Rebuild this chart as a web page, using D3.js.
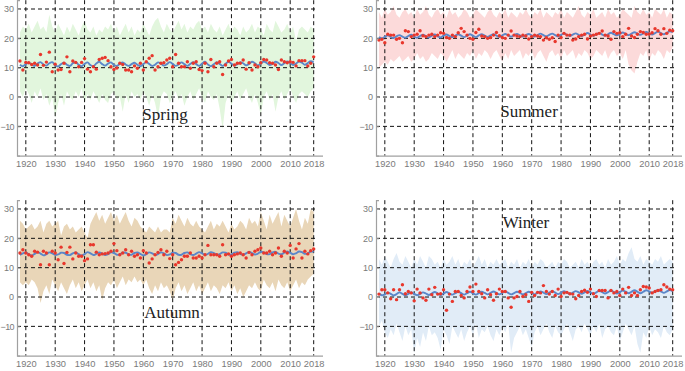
<!DOCTYPE html>
<html><head><meta charset="utf-8">
<script src="https://cdn.jsdelivr.net/npm/d3@7"></script>
<style>body{margin:0;background:#fff}svg{display:block}</style>
</head><body>
<svg id="c" width="685" height="371"></svg>
<script>
const years = d3.range(1918, 2019);
const xTicks = [1920,1930,1940,1950,1960,1970,1980,1990,2000,2010,2018];
const yTicks = [30,20,10,0,-10];
const seasons = ["Spring","Summer","Autumn","Winter"];

const springMean = [12.3,9.2,11.8,11.7,11.1,11.5,10.9,14.5,10.8,11.9,
15.3,8.6,11.2,9.2,9.4,11.5,13.7,8.6,12.3,11.8,
10.3,11.8,13.1,9.5,8.6,10.3,9.5,12.8,13.2,13.5,
12.4,10.3,9.4,9.9,11.5,11.1,9.2,9.2,8.6,10.6,
9.8,11.5,9.2,12.0,13.2,14.1,9.2,10.3,11.5,11.7,
12.6,13.2,10.3,14.5,11.5,10.3,10.3,12.0,9.8,11.5,
12.0,9.4,9.0,11.5,8.6,12.8,10.3,11.5,12.0,7.7,
10.9,12.3,12.8,10.9,11.5,11.5,12.6,9.5,11.7,9.2,
10.9,10.3,11.7,12.8,12.6,11.7,11.5,10.9,9.4,12.6,
12.0,11.7,12.0,11.8,10.6,12.4,12.4,12.4,10.6,11.5,13.7];
const springFit = [11.0,10.5,11.2,11.8,11.0,10.6,11.4,11.9,11.1,10.7,
11.5,11.9,10.8,10.4,11.2,11.7,11.0,10.6,11.5,11.9,
11.0,10.5,11.3,11.8,10.9,10.5,11.4,12.0,11.2,10.7,
11.4,11.8,10.9,10.6,11.3,11.8,11.1,10.6,11.2,11.7,
11.0,10.5,11.2,11.9,11.3,10.6,11.0,11.8,11.4,10.7,
11.2,11.9,11.3,10.6,11.1,11.8,11.2,10.6,11.3,11.9,
11.2,10.6,11.4,12.0,11.1,10.5,11.2,11.9,11.3,10.6,
11.3,12.0,11.4,10.7,11.2,11.9,11.5,10.8,11.3,12.0,
11.5,10.8,11.4,12.1,11.6,10.9,11.3,12.0,11.6,10.9,
11.5,12.1,11.6,10.9,11.4,12.1,11.7,11.0,11.6,12.2,11.8];
const springMax = [22,24,23,25,22,24,26,23,24,22,
28,24,22,25,23,21,24,22,25,23,
21,24,26,23,22,24,21,23,22,24,
23,25,22,24,21,23,25,22,24,21,
23,22,25,23,21,24,26,27,24,22,
25,23,22,24,26,23,25,22,24,23,
25,26,23,24,22,25,23,22,24,21,
23,25,22,24,23,21,24,22,23,25,
22,24,23,21,25,23,22,26,24,22,
23,25,22,24,19,23,24,23,22,24,23];
const springMin = [2,0,3,1,-2,2,0,3,-1,1,
-3,0,-7,-2,1,-3,2,0,-1,2,
0,3,-2,1,-1,2,0,-2,1,-1,
-2,1,2,-1,0,-5,1,-2,2,0,
1,-1,2,0,-3,1,-2,-7,0,2,
1,-2,0,2,-1,1,-3,0,2,-1,
1,3,0,-2,2,0,-1,1,-4,-11,
-2,1,-3,0,2,-1,1,3,0,-2,
1,-2,-6,0,2,-1,1,-5,0,2,
-1,1,3,0,-2,1,2,1,0,2,3];

const summerMean = [19.4,19.7,18.5,21.4,21.1,21.1,19.7,20.0,18.5,22.6,
22.3,20.6,21.1,21.4,22.6,20.9,20.6,21.1,21.4,20.6,
21.1,21.9,21.7,20.3,20.0,21.1,20.6,21.9,23.4,22.3,
21.1,20.0,19.7,22.0,23.1,20.8,20.6,20.0,20.3,21.1,
22.0,20.9,20.3,20.0,21.1,22.5,21.1,20.8,20.6,21.1,
20.8,19.8,20.6,21.1,20.8,20.6,19.4,20.2,19.7,20.2,
18.9,21.1,20.3,21.7,21.1,21.1,19.4,19.8,20.6,21.1,
21.4,19.8,20.8,21.1,21.4,21.7,22.5,21.1,20.8,19.7,
22.3,21.7,21.9,20.6,21.4,23.4,20.8,20.3,21.4,22.3,
22.0,21.4,21.5,21.9,23.3,22.6,21.4,23.3,21.7,22.8,22.6];
const summerFit = [20.4,20.0,20.5,21.0,20.5,20.1,20.7,21.1,20.6,20.2,
20.8,21.2,20.6,20.2,20.8,21.2,20.7,20.3,20.9,21.3,
20.7,20.3,20.9,21.3,20.8,20.4,20.9,21.4,20.9,20.4,
20.9,21.4,20.9,20.4,21.0,21.4,20.9,20.5,21.0,21.4,
20.9,20.5,21.0,21.5,21.0,20.6,21.1,21.5,21.0,20.6,
21.1,21.5,21.0,20.6,21.1,21.6,21.1,20.7,21.2,21.6,
21.1,20.7,21.2,21.7,21.2,20.8,21.3,21.7,21.2,20.8,
21.3,21.8,21.3,20.9,21.4,21.8,21.3,20.9,21.4,21.9,
21.4,21.0,21.5,22.0,21.5,21.1,21.6,22.1,21.6,21.2,
21.7,22.2,21.7,21.3,21.8,22.3,21.8,21.4,21.9,22.4,22.1];
const summerMax = [29,27,30,28,29,31,28,27,29,30,
28,29,27,30,28,29,31,28,27,29,
30,28,29,27,30,28,29,27,28,30,
29,27,28,30,29,28,27,29,30,28,
27,29,28,30,27,29,28,27,29,28,
30,28,27,29,28,30,27,29,28,27,
29,28,30,27,29,28,27,29,31,28,
27,29,28,30,27,28,29,27,30,28,
29,27,28,30,29,28,27,31,29,28,
30,28,29,27,30,29,28,30,27,29,28];
const summerMin = [10,11,12,11,13,12,13,14,12,13,
14,12,13,15,13,14,12,13,15,14,
13,15,14,12,14,16,13,15,14,13,
15,14,16,13,15,14,16,15,13,15,
16,14,12,15,13,16,14,15,16,13,
15,14,16,13,15,16,14,12,15,16,
14,15,13,16,14,15,16,13,15,14,
16,15,13,14,16,15,14,16,13,15,
16,14,15,13,16,11,9,8,12,15,
14,16,12,15,14,16,15,13,16,15,17];

const autumnMean = [15.0,16.1,15.0,14.4,13.9,15.6,15.3,11.0,15.6,15.0,
11.0,15.6,15.0,12.7,17.0,11.4,15.2,17.0,13.0,15.0,
13.9,13.9,12.4,13.0,17.8,17.8,15.3,14.4,14.7,14.8,
15.0,15.6,18.2,15.8,14.4,15.0,16.1,14.4,15.6,13.9,
14.4,13.3,15.8,15.0,11.6,13.0,14.4,15.2,16.1,14.4,
15.6,13.1,14.4,11.0,11.8,12.7,13.9,13.9,15.0,13.3,
13.3,13.9,13.3,14.4,17.6,14.4,14.4,14.4,13.9,17.8,
14.4,14.7,13.9,14.4,14.7,15.0,14.4,13.3,15.2,14.4,
15.6,16.1,16.7,15.0,15.0,15.6,14.4,15.0,16.7,13.9,
15.6,15.0,17.6,13.3,16.4,18.2,13.3,15.6,14.7,15.8,16.4];
const autumnFit = [14.3,14.9,15.2,14.6,14.1,14.7,15.3,14.8,14.2,14.6,
15.2,14.9,14.3,14.5,15.1,15.0,14.4,14.3,14.9,15.2,
14.6,14.1,14.6,15.3,14.9,14.3,14.7,15.2,14.8,14.3,
14.6,15.2,15.0,14.4,14.5,15.1,15.1,14.5,14.4,15.0,
15.2,14.7,14.2,14.6,15.2,14.9,14.3,14.6,15.2,14.9,
14.3,14.5,15.1,15.0,14.4,14.4,15.0,15.2,14.6,14.3,
14.8,15.3,14.9,14.4,14.7,15.3,15.0,14.4,14.6,15.2,
15.1,14.5,14.5,15.1,15.3,14.7,14.4,14.9,15.4,15.0,
14.5,14.8,15.4,15.2,14.6,14.6,15.2,15.4,14.8,14.6,
15.1,15.5,15.1,14.6,14.9,15.5,15.3,14.7,14.9,15.5,15.4];
const autumnMax = [26,25,23,24,25,23,24,26,22,25,
26,24,25,26,21,24,25,23,24,22,
23,24,22,20,25,27,29,26,28,25,
27,29,26,28,25,27,29,26,24,27,
26,24,23,22,24,23,22,24,22,23,
23,22,27,25,28,26,24,27,25,24,
26,24,23,22,24,26,23,25,24,26,
24,22,25,23,24,26,25,23,27,25,
26,24,29,26,23,28,25,27,29,24,
28,26,24,27,30,26,23,27,25,30,29];
const autumnMin = [5,4,5,4,6,5,3,-2,2,4,
1,6,4,2,5,3,1,4,6,3,
5,2,4,6,3,5,2,4,-1,3,
5,4,6,3,5,7,4,6,5,7,
5,6,4,6,3,1,4,2,5,3,
4,2,-1,3,5,2,4,1,3,5,
2,4,1,3,5,2,4,3,1,4,
3,5,2,4,1,3,0,2,4,3,
5,3,2,6,4,3,5,2,6,4,
3,5,2,4,6,3,5,4,6,7,8];

const winterMean = [1.0,2.5,2.5,1.4,-0.6,2.5,-0.9,2.5,4.2,1.1,
1.9,1.4,-1.3,2.7,1.4,-0.3,-1.1,2.7,0.8,3.3,
1.0,1.1,2.5,-4.5,1.0,-1.5,1.9,1.9,0.5,-0.3,
1.9,3.4,1.9,4.4,1.9,1.1,-0.3,2.5,0.8,-1.1,
1.1,2.7,1.9,1.9,-0.3,-3.5,-0.3,0.2,1.9,0.2,
0.8,-1.5,1.6,0.5,1.6,1.4,3.9,1.9,1.0,1.9,
0.5,2.7,0.2,1.4,1.6,1.1,1.0,-0.6,0.5,1.9,
2.3,1.6,2.7,1.1,0.2,2.2,2.2,2.2,-0.3,2.2,
1.4,1.9,0.5,2.7,1.4,3.3,0.5,1.4,0.5,2.5,
3.6,3.4,3.1,1.4,1.9,2.2,2.5,4.2,3.4,2.7,2.5];
const winterFit = [1.2,0.6,0.9,1.5,1.1,0.5,1.0,1.6,1.1,0.6,
1.1,1.6,1.1,0.6,1.1,1.6,1.2,0.7,1.2,1.7,
1.2,0.7,1.2,1.7,1.2,0.8,1.3,1.8,1.3,0.8,
1.3,1.8,1.3,0.8,1.3,1.8,1.4,0.9,1.4,1.9,
1.4,0.9,1.4,1.9,1.4,0.9,1.3,1.8,1.4,0.9,
1.3,1.8,1.4,0.9,1.4,1.9,1.5,1.0,1.5,2.0,
1.5,1.0,1.5,2.0,1.5,1.0,1.5,2.0,1.6,1.1,
1.6,2.1,1.6,1.1,1.6,2.1,1.7,1.2,1.7,2.2,
1.7,1.2,1.7,2.2,1.8,1.3,1.8,2.3,1.8,1.3,
1.8,2.3,1.9,1.4,1.9,2.4,1.9,1.4,1.9,2.4,2.0];
const winterMax = [13,11,14,12,10,13,15,12,11,14,
12,10,13,11,14,12,10,14,13,11,
12,10,13,11,12,14,11,13,10,12,
11,13,10,12,14,11,13,10,12,11,
13,11,12,13,10,12,11,13,10,12,
11,13,10,12,11,13,12,10,11,12,
10,12,11,13,12,10,11,12,10,13,
11,12,10,12,13,11,12,10,13,11,
12,14,11,13,12,15,17,13,12,14,
11,13,12,11,13,12,14,11,12,13,12];
const winterMin = [-10,-8,-12,-14,-11,-13,-9,-12,-15,-10,
-13,-11,-19,-14,-17,-12,-15,-10,-13,-12,
-14,-18,-11,-13,-16,-10,-12,-14,-11,-15,
-12,-10,-13,-9,-14,-11,-12,-10,-13,-15,
-11,-13,-10,-12,-9,-19,-14,-12,-10,-13,
-11,-14,-17,-12,-10,-13,-11,-9,-12,-14,
-10,-12,-13,-11,-9,-12,-15,-11,-10,-12,
-9,-11,-13,-10,-12,-9,-14,-11,-10,-12,
-13,-10,-15,-12,-9,-11,-13,-10,-16,-19,
-12,-14,-10,-13,-11,-12,-14,-10,-12,-13,-11];

const panels = [
  {name:"Spring", mean:springMean, fit:springFit, max:springMax, min:springMin, band:"#e2f6dd", x0:17, y0:0, lx:165, ly:120},
  {name:"Summer", mean:summerMean, fit:summerFit, max:summerMax, min:summerMin, band:"#fcdada", x0:376, y0:0, lx:529, ly:117},
  {name:"Autumn", mean:autumnMean, fit:autumnFit, max:autumnMax, min:autumnMin, band:"#e9d6b8", x0:17, y0:200, lx:172, ly:318},
  {name:"Winter", mean:winterMean, fit:winterFit, max:winterMax, min:winterMin, band:"#e1ecf7", x0:376, y0:200, lx:526, ly:228}
];

const svg = d3.select("#c");
const tickFont = "'Liberation Sans', Arial, sans-serif";
panels.forEach(p => {
  const x = d3.scaleLinear().domain([1917, 2021]).range([p.x0, p.x0 + 305.5]);
  const y = d3.scaleLinear().domain([-20, 33]).range([p.y0 + 155.7, p.y0 + 0.2]);
  const g = svg.append("g");
  const rows = years.map((yr, i) => ({yr, mean:p.mean[i], fit:p.fit[i], max:p.max[i], min:p.min[i]}));

  g.append("path").datum(rows)
    .attr("d", d3.area().x(d => x(d.yr)).y0(d => y(d.min)).y1(d => y(d.max)))
    .attr("fill", p.band);

  g.selectAll(".hg").data(yTicks).join("line")
    .attr("x1", x(1917)).attr("x2", x(2018.5))
    .attr("y1", d => y(d)).attr("y2", d => y(d))
    .attr("stroke", "#111").attr("stroke-width", 1).attr("stroke-dasharray", "4,3");
  g.selectAll(".vg").data(xTicks).join("line")
    .attr("x1", d => x(d)).attr("x2", d => x(d))
    .attr("y1", y(33)).attr("y2", y(-20))
    .attr("stroke", "#111").attr("stroke-width", 1).attr("stroke-dasharray", "4,3");

  g.append("path").datum(rows)
    .attr("d", d3.line().x(d => x(d.yr)).y(d => y(d.fit)).curve(d3.curveCatmullRom))
    .attr("fill", "none").attr("stroke", "#5b87c9").attr("stroke-width", 1.9);

  g.selectAll(".pt").data(rows).join("circle")
    .attr("cx", d => x(d.yr)).attr("cy", d => y(d.mean)).attr("r", 1.7)
    .attr("fill", "#e8372c");

  const ax = g.append("g").attr("transform", `translate(0,${y(-20)})`)
    .call(d3.axisBottom(x).tickValues(xTicks).tickFormat(d3.format("d")).tickSize(0).tickPadding(5));
  ax.select(".domain").attr("stroke", "#a0a0a0").attr("stroke-width", 1.2);
  ax.selectAll("text").attr("fill", "#7a7a7a").attr("font-size", "9.3px").attr("font-family", tickFont);

  const ay = g.append("g").attr("transform", `translate(${x(1917)},0)`)
    .call(d3.axisLeft(y).tickValues(yTicks).tickFormat(d => d < 0 ? "\u2212" + Math.abs(d) : d).tickSize(-3).tickPadding(3));
  ay.select(".domain").attr("stroke", "#a0a0a0").attr("stroke-width", 1.2);
  ay.selectAll(".tick line").attr("stroke", "#a0a0a0");
  ay.selectAll("text").attr("fill", "#7a7a7a").attr("font-size", "9px").attr("font-family", tickFont)
    .attr("letter-spacing", d => d < 0 ? "-0.6px" : null);

  g.append("text").attr("x", p.lx).attr("y", p.ly).attr("text-anchor", "middle")
    .attr("font-family", "'Liberation Serif', 'DejaVu Serif', serif").attr("font-size", "17px")
    .attr("fill", "#222").text(p.name);
});
</script>
</body></html>
